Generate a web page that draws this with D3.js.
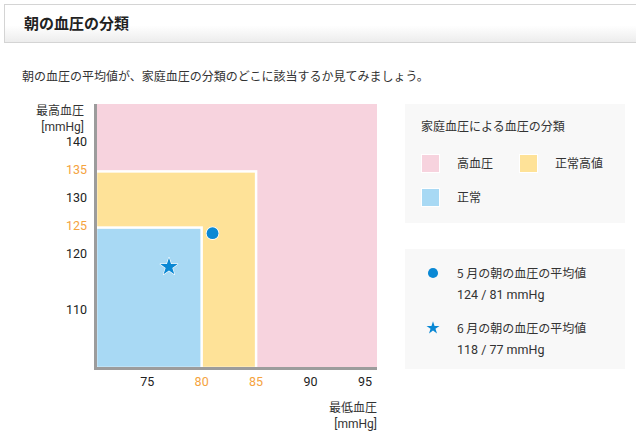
<!DOCTYPE html>
<html lang="ja">
<head>
<meta charset="UTF-8">
<title>朝の血圧の分類</title>
<script src="https://d3js.org/d3.v7.min.js"></script>
<style>
  body { margin: 0; background: #fff; }
  text { font-family: "Noto Sans CJK JP", "Noto Sans", sans-serif; fill: #333; }
  .num { font-family: Roboto, "Noto Sans", sans-serif; }
</style>
</head>
<body>
<div id="chart"></div>
<script>
// classification areas (upper limits; null = unbounded)
const categories = ["高血圧", "正常高値", "正常"];
const sbpLimits = [null, 135, 125];
const dbpLimits = [null, 85, 80];
const areaColors = ["#f7d3de", "#fee298", "#a8d9f4"];

// measured averages
const months = ["5 月の朝の血圧の平均値", "6 月の朝の血圧の平均値"];
const sbpValues = [124, 118];
const dbpValues = [81, 77];
const markTypes = ["circle", "star"];

// tick labels
const xTicks = [75, 80, 85, 90, 95];
const yTicks = [110, 120, 125, 130, 135, 140];
const xHighlight = [80, 85];
const yHighlight = [125, 135];

const width = 636, height = 441;
const orange = "#f5a33d", blue = "#0a88d4";

const svg = d3.select("#chart").append("svg")
  .attr("width", width).attr("height", height);

// header bar
const grad = svg.append("defs").append("linearGradient")
  .attr("id", "hdr").attr("x1", 0).attr("y1", 0).attr("x2", 0).attr("y2", 1);
grad.append("stop").attr("offset", "0%").attr("stop-color", "#ffffff");
grad.append("stop").attr("offset", "55%").attr("stop-color", "#ffffff");
grad.append("stop").attr("offset", "100%").attr("stop-color", "#ececec");
svg.append("rect").attr("x", 4.5).attr("y", 4.5).attr("width", 640).attr("height", 38)
  .attr("fill", "url(#hdr)").attr("stroke", "#d4d4d4");
svg.append("text").attr("x", 24).attr("y", 29)
  .style("font-size", "15px").style("font-weight", "bold").style("fill", "#222")
  .text("朝の血圧の分類");
svg.append("text").attr("x", 22).attr("y", 81)
  .style("font-size", "12px")
  .text("朝の血圧の平均値が、家庭血圧の分類のどこに該当するか見てみましょう。");

// scales
const x = d3.scaleLinear().domain([70.3, 96.1]).range([96, 377]);
const y = d3.scaleLinear().domain([100, 147]).range([368, 104]);

// areas
const plot = svg.append("g");
plot.selectAll("rect.area")
  .data(categories.map((c, i) => ({ c, i })))
  .enter().append("rect")
  .attr("class", "area")
  .attr("x", x(x.domain()[0]))
  .attr("y", d => y(sbpLimits[d.i] ?? y.domain()[1]))
  .attr("width", d => x(dbpLimits[d.i] ?? x.domain()[1]) - x(x.domain()[0]))
  .attr("height", d => y(y.domain()[0]) - y(sbpLimits[d.i] ?? y.domain()[1]))
  .attr("fill", d => areaColors[d.i])
  .attr("stroke", d => d.i === 0 ? "none" : "#fff")
  .attr("stroke-width", 2.5);

// axis lines
svg.append("line").attr("x1", x.range()[0] - 0.5).attr("x2", x.range()[0] - 0.5)
  .attr("y1", y.range()[1]).attr("y2", y.range()[0] + 2)
  .attr("stroke", "#9c9c9c").attr("stroke-width", 3);
svg.append("line").attr("x1", x.range()[0] - 2).attr("x2", x.range()[1])
  .attr("y1", y.range()[0] + 0.5).attr("y2", y.range()[0] + 0.5)
  .attr("stroke", "#9c9c9c").attr("stroke-width", 3);

// tick labels
svg.append("g").selectAll("text").data(yTicks).enter().append("text")
  .attr("class", "num")
  .attr("x", 87).attr("y", d => y(d) + 2.5)
  .attr("text-anchor", "end").style("font-size", "12.5px")
  .style("fill", d => yHighlight.includes(d) ? orange : "#222")
  .text(d => d);
svg.append("g").selectAll("text").data(xTicks).enter().append("text")
  .attr("class", "num")
  .attr("x", d => x(d)).attr("y", 386)
  .attr("text-anchor", "middle").style("font-size", "12.5px")
  .style("fill", d => xHighlight.includes(d) ? orange : "#222")
  .text(d => d);

// axis titles
svg.append("text").attr("x", 84).attr("y", 115).attr("text-anchor", "end")
  .style("font-size", "12px").text("最高血圧");
svg.append("text").attr("x", 84).attr("y", 131).attr("text-anchor", "end")
  .attr("class", "num").style("font-size", "12px").text("[mmHg]");
svg.append("text").attr("x", 377).attr("y", 412).attr("text-anchor", "end")
  .style("font-size", "12px").text("最低血圧");
svg.append("text").attr("x", 377).attr("y", 428).attr("text-anchor", "end")
  .attr("class", "num").style("font-size", "12px").text("[mmHg]");

// points
const starPath = size => d3.symbol(d3.symbolStar, size)();
const pts = months.map((m, i) => ({ m, sbp: sbpValues[i], dbp: dbpValues[i], type: markTypes[i] }));
svg.append("g").selectAll("path").data(pts).enter().append("path")
  .attr("transform", d => `translate(${x(d.dbp)},${y(d.sbp)})`)
  .attr("d", d => d.type === "circle" ? d3.symbol(d3.symbolCircle, 110)() : starPath(95))
  .attr("fill", blue).attr("stroke", "#fff")
  .attr("stroke-width", d => d.type === "circle" ? 1.6 : 1.2)
  .attr("stroke-linejoin", "round")
  .style("paint-order", "stroke");

// legend 1: categories
const lg1 = svg.append("g");
lg1.append("rect").attr("x", 405).attr("y", 104).attr("width", 220).attr("height", 119)
  .attr("fill", "#f8f8f8");
lg1.append("text").attr("x", 421).attr("y", 131).style("font-size", "12px")
  .text("家庭血圧による血圧の分類");
const legPos = [[421, 154], [519, 154], [421, 188]];
const lgItems = lg1.selectAll("g.item").data(categories).enter().append("g")
  .attr("class", "item")
  .attr("transform", (d, i) => `translate(${legPos[i][0]},${legPos[i][1]})`);
lgItems.append("rect").attr("x", 0.5).attr("y", 0.5).attr("width", 18).attr("height", 18)
  .attr("fill", (d, i) => areaColors[i]).attr("stroke", "#fff");
lgItems.append("text").attr("x", 36).attr("y", 13.5).style("font-size", "12px")
  .text(d => d);

// legend 2: measured values
const lg2 = svg.append("g");
lg2.append("rect").attr("x", 405).attr("y", 249).attr("width", 220).attr("height", 120)
  .attr("fill", "#f8f8f8");
const rows = lg2.selectAll("g.row").data(pts).enter().append("g")
  .attr("class", "row")
  .attr("transform", (d, i) => `translate(433,${273 + i * 55})`);
rows.append("path")
  .attr("d", d => d.type === "circle" ? d3.symbol(d3.symbolCircle, 80)() : starPath(52))
  .attr("fill", blue);
rows.append("text").attr("x", 24).attr("y", 4.5).style("font-size", "12px")
  .text(d => d.m);
rows.append("text").attr("x", 24).attr("y", 25.5).attr("class", "num").style("font-size", "12.5px")
  .text(d => `${d.sbp} / ${d.dbp} mmHg`);
</script>
</body>
</html>
